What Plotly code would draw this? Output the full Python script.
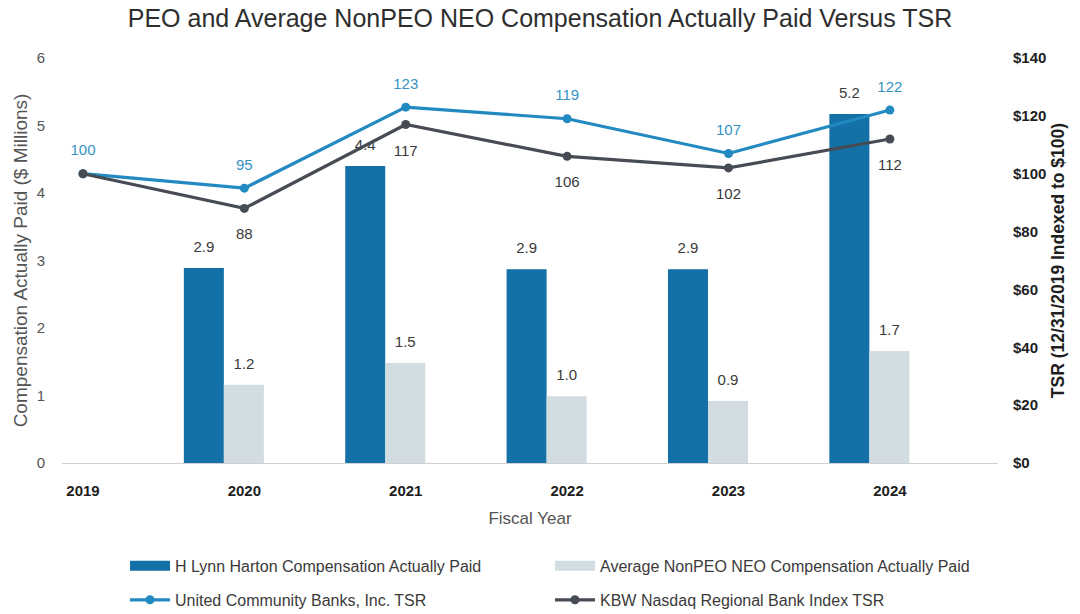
import plotly.graph_objects as go

years = [2019, 2020, 2021, 2022, 2023, 2024]
bar_years = [2020, 2021, 2022, 2023, 2024]
peo_cap = [2.89, 4.40, 2.87, 2.87, 5.17]
neo_cap = [1.16, 1.48, 0.99, 0.92, 1.66]
ucb_tsr = [100, 95, 123, 119, 107, 122]
kbw_tsr = [100, 88, 117, 106, 102, 112]
kbw_text = ["" if i == 0 else str(v) for i, v in enumerate(kbw_tsr)]
left_ticks = [0, 1, 2, 3, 4, 5, 6]
right_ticks = [0, 20, 40, 60, 80, 100, 120, 140]

FONT = "Liberation Sans, Arial, sans-serif"
DARK = "#1471A7"
LIGHT = "#D2DDE2"
UCB = "#2389C1"
KBW = "#474C54"
TXT = "#3a3a3a"
PEO_NAME = "H Lynn Harton Compensation Actually Paid"
NEO_NAME = "Average NonPEO NEO Compensation Actually Paid"
BAR_W = 0.248
PEO_OFF = -0.375
NEO_OFF = -0.127

fig = go.Figure()
fig.add_trace(go.Bar(
    x=bar_years, y=peo_cap, name=PEO_NAME, showlegend=False,
    marker=dict(color=DARK, line=dict(width=0)), width=BAR_W, offset=PEO_OFF,
    hovertemplate="%{x}: %{y:.1f}<extra></extra>",
))
fig.add_trace(go.Bar(
    x=bar_years, y=neo_cap, name=NEO_NAME, showlegend=False,
    marker=dict(color=LIGHT, line=dict(width=0)), width=BAR_W, offset=NEO_OFF,
    hovertemplate="%{x}: %{y:.1f}<extra></extra>",
))
# value labels above the bars
for vals, off in ((peo_cap, PEO_OFF), (neo_cap, NEO_OFF)):
    fig.add_trace(go.Scatter(
        x=[yr + off + BAR_W / 2 for yr in bar_years], y=vals, mode="markers+text",
        marker=dict(size=18, opacity=0), text=["%.1f" % v for v in vals],
        textposition="top center", textfont=dict(color=TXT, size=15, family=FONT),
        showlegend=False, hoverinfo="skip", cliponaxis=False,
    ))
# legend swatches for the bar series (wide rectangles like the original)
fig.add_trace(go.Scatter(x=[None], y=[None], mode="lines", name=PEO_NAME,
                         line=dict(color=DARK, width=10), legend="legend"))
fig.add_trace(go.Scatter(x=[None], y=[None], mode="lines", name=NEO_NAME,
                         line=dict(color=LIGHT, width=10), legend="legend"))
fig.add_trace(go.Scatter(
    x=years, y=ucb_tsr, name="United Community Banks, Inc. TSR", yaxis="y2",
    mode="lines+markers", line=dict(color=UCB, width=3.2),
    marker=dict(color=UCB, size=9), cliponaxis=False, legend="legend2",
))
fig.add_trace(go.Scatter(
    x=years, y=kbw_tsr, name="KBW Nasdaq Regional Bank Index TSR", yaxis="y2",
    mode="lines+markers", line=dict(color=KBW, width=3.2),
    marker=dict(color=KBW, size=9), cliponaxis=False, legend="legend2",
))
# TSR value labels
fig.add_trace(go.Scatter(
    x=years, y=ucb_tsr, yaxis="y2", mode="markers+text",
    marker=dict(size=22, opacity=0), text=[str(v) for v in ucb_tsr],
    textposition="top center", textfont=dict(color="#3592C5", size=15, family=FONT),
    showlegend=False, hoverinfo="skip", cliponaxis=False,
))
fig.add_trace(go.Scatter(
    x=years, y=kbw_tsr, yaxis="y2", mode="markers+text",
    marker=dict(size=30, opacity=0), text=kbw_text,
    textposition="bottom center", textfont=dict(color=TXT, size=15, family=FONT),
    showlegend=False, hoverinfo="skip", cliponaxis=False,
))

leg_common = dict(orientation="h", x=0.0673, xanchor="left", yanchor="middle",
                  entrywidth=370, entrywidthmode="pixels", itemwidth=40,
                  font=dict(size=16, color=TXT, family=FONT), traceorder="normal",
                  bgcolor="rgba(0,0,0,0)")

fig.update_layout(
    width=1080, height=614,
    margin=dict(l=62, r=82, t=58, b=151, autoexpand=False),
    paper_bgcolor="white", plot_bgcolor="white",
    font=dict(family=FONT, color=TXT, size=15),
    title=dict(text="PEO and Average NonPEO NEO Compensation Actually Paid Versus TSR",
               x=0.5, xanchor="center", y=0.970, yanchor="middle",
               font=dict(size=25, color="#2e2e2e", family=FONT)),
    barmode="overlay",
    showlegend=True,
    legend=dict(y=-0.254, **leg_common),
    legend2=dict(y=-0.338, **leg_common),
    xaxis=dict(range=[2018.87, 2024.67], tickmode="array", tickvals=years,
               ticktext=["<b>%d</b>" % y for y in years], showgrid=False,
               zeroline=False, showline=True, linecolor="#d0d0d0", linewidth=1,
               tickfont=dict(size=15, color="#1e1e1e"), ticks="", ticklabelstandoff=14,
               title=dict(text="Fiscal Year", font=dict(size=17, color="#555555"), standoff=14)),
    yaxis=dict(range=[0, 6], tickvals=left_ticks, showgrid=False,
               zeroline=False, showline=False, ticks="", ticklabelstandoff=16,
               tickfont=dict(size=15, color="#555555"),
               title=dict(text="Compensation Actually Paid ($ Millions)",
                          font=dict(size=19, color="#555555"), standoff=4)),
    yaxis2=dict(range=[0, 140], overlaying="y", side="right", tickvals=right_ticks,
                ticktext=["<b>$%d</b>" % v for v in right_ticks], showgrid=False,
                zeroline=False, showline=False, ticks="", ticklabelstandoff=14,
                tickfont=dict(size=15, color="#1e1e1e"),
                title=dict(text="<b>TSR (12/31/2019 Indexed to $100)</b>",
                           font=dict(size=17.5, color="#1e1e1e"), standoff=6)),
)

fig.write_html("out.html")
